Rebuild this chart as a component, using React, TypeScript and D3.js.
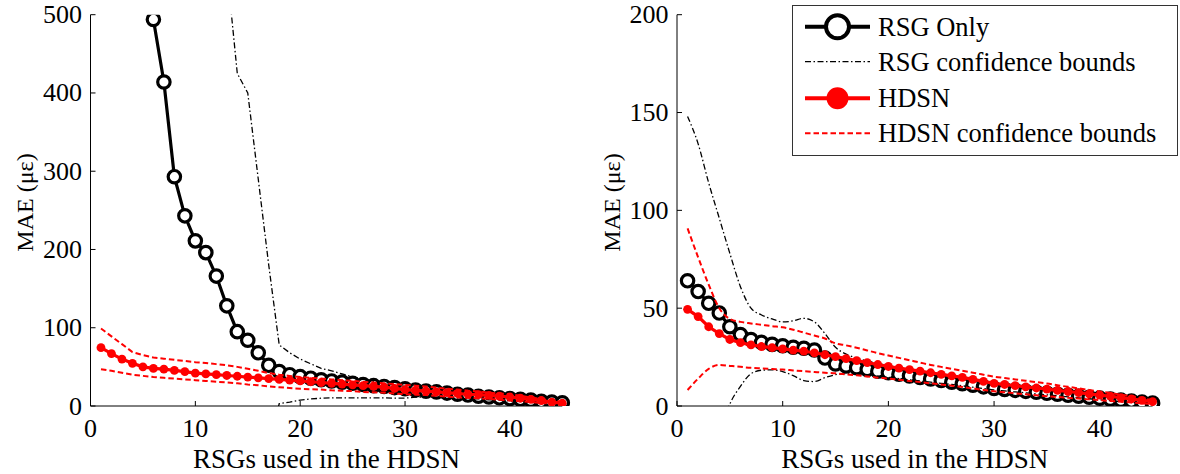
import React from "react";
import * as d3 from "d3";

// ---------- DATA ----------
const xs = d3.range(1, 46); // RSGs used 1..45

// Left panel
const leftRsgX = d3.range(6, 46);
const leftRsg = [494, 414, 293, 243, 211, 196, 166, 128, 95, 84, 68, 52, 44, 40, 37.5, 35.5, 33.5, 32, 30.5, 29, 27.5, 26, 25, 23.5, 22, 20.5, 19, 18, 16.5, 15, 14, 12.5, 11.5, 10.5, 9.5, 8.5, 7.5, 6, 5, 4];
const leftRsgUpX = d3.range(13, 46);
const leftRsgUp = [560, 425, 400, 290, 180, 78, 68, 60, 54, 48, 45, 41, 37, 34.5, 31.5, 29, 27, 25, 23, 21, 19.5, 18, 16.5, 15, 13.5, 12.5, 11, 10, 9, 8, 7, 6, 5];
const leftRsgLoX = d3.range(17, 46);
const leftRsgLo = [-50, 3, 5, 7.5, 9, 10, 10.5, 10.5, 10.5, 10.5, 10.5, 10.5, 10, 10, 11.5, 11.5, 11, 10.5, 10, 9.5, 9, 8, 7.5, 6.5, 5.5, 4.5, 3.5, 2.5, 2];
const leftHdsn = [74.5, 67, 60, 54.5, 50, 48, 47, 45.5, 44, 42, 41, 40, 39, 38, 37, 36, 35, 34, 33, 32, 31, 30, 29, 28, 27, 26, 25, 24, 22.5, 21, 20, 19, 18, 17, 16, 15, 14.5, 13.5, 12.5, 11.5, 10, 8.5, 7, 5, 3.5];
const leftHdsnUp = [99, 89, 79, 69, 65, 62, 60.5, 59, 57.5, 56, 55, 53.5, 52, 50, 47.5, 45, 42, 40, 38.5, 37, 36, 35, 34, 33, 32, 31, 30, 29, 28, 27, 26, 25, 23.5, 22, 21, 19.5, 18.5, 17, 16, 15, 13, 11, 9, 7, 5];
const leftHdsnLo = [47, 45, 42.5, 40, 38.5, 37, 36, 35, 34, 33, 32, 31, 30, 29, 27.5, 26.5, 25, 24, 23, 22, 21.5, 21, 20, 19.5, 19, 18, 17.5, 17, 16, 15, 14.5, 14, 13, 12, 11, 10.5, 10, 9, 8, 7, 6, 5, 4, 3, 2];

// Right panel
const rightRsg = [64, 58.5, 52.5, 47.5, 40.5, 36.5, 34, 32.5, 31.5, 30.8, 30, 29.5, 28.6, 24.5, 21.5, 20.5, 19.6, 18.7, 17.8, 17, 16.2, 15.4, 14.6, 13.8, 13, 12.2, 11.4, 10.6, 9.8, 9, 8.5, 8, 7.5, 7, 6.5, 6, 5.5, 5, 4.5, 4, 3.5, 3, 2.5, 2, 1.5];
const rightRsgUp = [148, 134, 114, 96, 78, 61, 50, 46.5, 44.5, 43, 43.5, 44.8, 43, 37, 30, 26.5, 24.5, 23, 21.8, 20.6, 19.6, 18.6, 17.6, 16.6, 15.6, 14.6, 13.7, 12.8, 11.9, 11, 10.4, 9.8, 9.2, 8.6, 8, 7.4, 6.8, 6.2, 5.6, 5, 4.4, 3.8, 3.2, 2.6, 2];
const rightRsgLoX = d3.range(4, 46);
const rightRsgLo = [-15, 1, 10, 16.5, 18.3, 18.5, 17.6, 15.5, 13, 12.5, 14.5, 16, 16.5, 16.2, 15.8, 15.2, 14.6, 14, 13.4, 12.8, 12.2, 11.6, 11, 10.3, 9.6, 8.9, 8.2, 7.7, 7.2, 6.7, 6.2, 5.7, 5.2, 4.7, 4.2, 3.7, 3.2, 2.7, 2.2, 1.8, 1.4, 1];
const rightHdsn = [49.4, 45.7, 40.5, 37, 34, 32.4, 31.2, 30.4, 29.8, 29.2, 28.6, 28, 27.2, 26.2, 25.2, 24.2, 23.2, 22.2, 21.2, 20.2, 19.4, 18.6, 17.8, 17, 16.2, 15.4, 14.6, 13.6, 12.6, 11.6, 11, 10.4, 9.8, 9.2, 8.6, 8, 7.4, 6.8, 6.2, 5.6, 5, 4.3, 3.6, 2.9, 2.2];
const rightHdsnUp = [90.8, 76, 62, 50, 44.5, 43, 42.2, 41.5, 40.8, 40.2, 39, 37.5, 36, 34.5, 32, 31, 29.8, 28.4, 27, 25.8, 24.6, 23.4, 22.2, 21, 20, 19, 18, 17, 16, 15, 14.3, 13.6, 12.9, 12.2, 11.5, 10.6, 9.8, 9, 8.2, 7.4, 6.6, 5.8, 5, 4, 3];
const rightHdsnLo = [8.2, 14, 19, 21, 20.5, 20, 19.5, 19.2, 18.9, 18.6, 18.2, 17.8, 17.4, 17, 16.7, 16.2, 15.7, 15.1, 14.5, 14, 13.4, 12.8, 12.2, 11.6, 11, 10.4, 9.7, 9, 8.2, 7.5, 7, 6.5, 6, 5.5, 5, 4.6, 4.2, 3.8, 3.4, 3, 2.6, 2.2, 1.8, 1.4, 1];

const xTicks = [0, 10, 20, 30, 40];
const leftYTicks = [0, 100, 200, 300, 400, 500];
const rightYTicks = [0, 50, 100, 150, 200];
const legendLabels = ["RSG Only", "RSG confidence bounds", "HDSN", "HDSN confidence bounds"];
const xLabel = "RSGs used in the HDSN";
const yLabel = "MAE (\u03bc\u03b5)";

const FONT = "'Liberation Serif', 'Times New Roman', serif";
const DASHDOT = "6,2.5,1.5,2.5";
const DASH = "5.5,3";

type Series = { x: number[]; y: number[] };

function zip(s: Series): [number, number][] {
  return s.x.map((v, i) => [v, s.y[i]] as [number, number]);
}

function Panel(props: {
  id: string;
  x0: number;
  x1: number;
  yMax: number;
  yTicks: number[];
  rsg: Series;
  rsgUp: Series;
  rsgLo: Series;
  hdsn: Series;
  hdsnUp: Series;
  hdsnLo: Series;
  smoothBounds: boolean;
  yLabelX: number;
}) {
  const top = 14.7;
  const bottom = 406;
  const x = d3.scaleLinear().domain([0, 45]).range([props.x0, props.x1]);
  const y = d3.scaleLinear().domain([0, props.yMax]).range([bottom, top]);
  const line = d3
    .line<[number, number]>()
    .x((d) => x(d[0]))
    .y((d) => y(d[1]));
  const bline = d3
    .line<[number, number]>()
    .x((d) => x(d[0]))
    .y((d) => y(d[1]))
    .curve(props.smoothBounds ? d3.curveMonotoneX : d3.curveLinear);
  const clipId = "clip-" + props.id;
  const rsgPts = zip(props.rsg);
  const hdsnPts = zip(props.hdsn);
  return (
    <g>
      <defs>
        <clipPath id={clipId}>
          <rect x={props.x0 - 10} y={top} width={props.x1 - props.x0 + 20} height={bottom - top} />
        </clipPath>
      </defs>
      {/* axes */}
      <line x1={props.x0} x2={props.x0} y1={top} y2={bottom} stroke="#000" strokeWidth={1} />
      <line x1={props.x0} x2={props.x1} y1={bottom} y2={bottom} stroke="#000" strokeWidth={1} />
      {props.yTicks.map((t) => (
        <g key={"y" + t}>
          <line x1={props.x0} x2={props.x0 + 5} y1={y(t)} y2={y(t)} stroke="#000" strokeWidth={1} />
          <text x={props.x0 - 8.5} y={y(t) + 8.5} textAnchor="end" fontFamily={FONT} fontSize={26} fill="#000">
            {t}
          </text>
        </g>
      ))}
      {xTicks.map((t) => (
        <g key={"x" + t}>
          <line x1={x(t)} x2={x(t)} y1={bottom} y2={bottom - 5} stroke="#000" strokeWidth={1} />
          <text x={x(t)} y={437} textAnchor="middle" fontFamily={FONT} fontSize={26} fill="#000">
            {t}
          </text>
        </g>
      ))}
      <text
        x={(props.x0 + props.x1) / 2}
        y={468}
        textAnchor="middle"
        fontFamily={FONT}
        fontSize={27}
        fill="#000"
      >
        {xLabel}
      </text>
      <text
        transform={`translate(${props.yLabelX},202.5) rotate(-90)`}
        textAnchor="middle"
        fontFamily={FONT}
        fontSize={24}
        fill="#000"
      >
        {yLabel}
      </text>
      <g clipPath={`url(#${clipId})`}>
        {/* RSG only */}
        <path d={line(rsgPts) || ""} fill="none" stroke="#000" strokeWidth={3.2} />
        {rsgPts.map((p, i) => (
          <circle key={"c" + i} cx={x(p[0])} cy={y(p[1])} r={6.2} fill="#fff" stroke="#000" strokeWidth={3.2} />
        ))}
        {/* RSG bounds */}
        <path d={bline(zip(props.rsgUp)) || ""} fill="none" stroke="#000" strokeWidth={1.3} strokeDasharray={DASHDOT} />
        <path d={bline(zip(props.rsgLo)) || ""} fill="none" stroke="#000" strokeWidth={1.3} strokeDasharray={DASHDOT} />
        {/* HDSN */}
        <path d={line(hdsnPts) || ""} fill="none" stroke="#ff0000" strokeWidth={3.2} />
        {hdsnPts.map((p, i) => (
          <circle key={"r" + i} cx={x(p[0])} cy={y(p[1])} r={4.4} fill="#ff0000" />
        ))}
        {/* HDSN bounds */}
        <path d={bline(zip(props.hdsnUp)) || ""} fill="none" stroke="#ff0000" strokeWidth={2} strokeDasharray={DASH} />
        <path d={bline(zip(props.hdsnLo)) || ""} fill="none" stroke="#ff0000" strokeWidth={2} strokeDasharray={DASH} />
      </g>
    </g>
  );
}

function Legend() {
  const left = 792;
  const topY = 5;
  const w = 385;
  const h = 150;
  const rows = [26.7, 61.7, 98.3, 133.3];
  const lx0 = 805;
  const lx1 = 870;
  const mx = (lx0 + lx1) / 2;
  return (
    <g>
      <rect x={left + 0.5} y={topY + 0.5} width={w} height={h} fill="#fff" stroke="#333" strokeWidth={1} />
      <line x1={lx0} x2={lx1} y1={rows[0]} y2={rows[0]} stroke="#000" strokeWidth={4} />
      <circle cx={mx} cy={rows[0]} r={11.5} fill="#fff" stroke="#000" strokeWidth={4} />
      <line x1={lx0} x2={lx1} y1={rows[1]} y2={rows[1]} stroke="#000" strokeWidth={1.3} strokeDasharray={DASHDOT} />
      <line x1={lx0} x2={lx1} y1={rows[2]} y2={rows[2]} stroke="#ff0000" strokeWidth={4} />
      <circle cx={mx} cy={rows[2]} r={11} fill="#ff0000" />
      <line x1={lx0} x2={lx1} y1={rows[3]} y2={rows[3]} stroke="#ff0000" strokeWidth={2} strokeDasharray={DASH} />
      {legendLabels.map((t, i) => (
        <text key={t} x={878} y={rows[i] + 9} fontFamily={FONT} fontSize={26.5} fill="#000">
          {t}
        </text>
      ))}
    </g>
  );
}

export default function App() {
  return (
    <svg
      width={1180}
      height={474}
      style={{ position: "absolute", left: 0, top: 0, background: "#fff" }}
    >
      <rect x={0} y={0} width={1180} height={474} fill="#fff" />
      <Panel
        id="left"
        x0={90.5}
        x1={562.3}
        yMax={500}
        yTicks={leftYTicks}
        rsg={{ x: leftRsgX, y: leftRsg }}
        rsgUp={{ x: leftRsgUpX, y: leftRsgUp }}
        rsgLo={{ x: leftRsgLoX, y: leftRsgLo }}
        hdsn={{ x: xs, y: leftHdsn }}
        hdsnUp={{ x: xs, y: leftHdsnUp }}
        hdsnLo={{ x: xs, y: leftHdsnLo }}
        smoothBounds={false}
        yLabelX={33}
      />
      <Panel
        id="right"
        x0={677}
        x1={1152.6}
        yMax={200}
        yTicks={rightYTicks}
        rsg={{ x: xs, y: rightRsg }}
        rsgUp={{ x: xs, y: rightRsgUp }}
        rsgLo={{ x: rightRsgLoX, y: rightRsgLo }}
        hdsn={{ x: xs, y: rightHdsn }}
        hdsnUp={{ x: xs, y: rightHdsnUp }}
        hdsnLo={{ x: xs, y: rightHdsnLo }}
        smoothBounds={true}
        yLabelX={620}
      />
      <Legend />
    </svg>
  );
}
